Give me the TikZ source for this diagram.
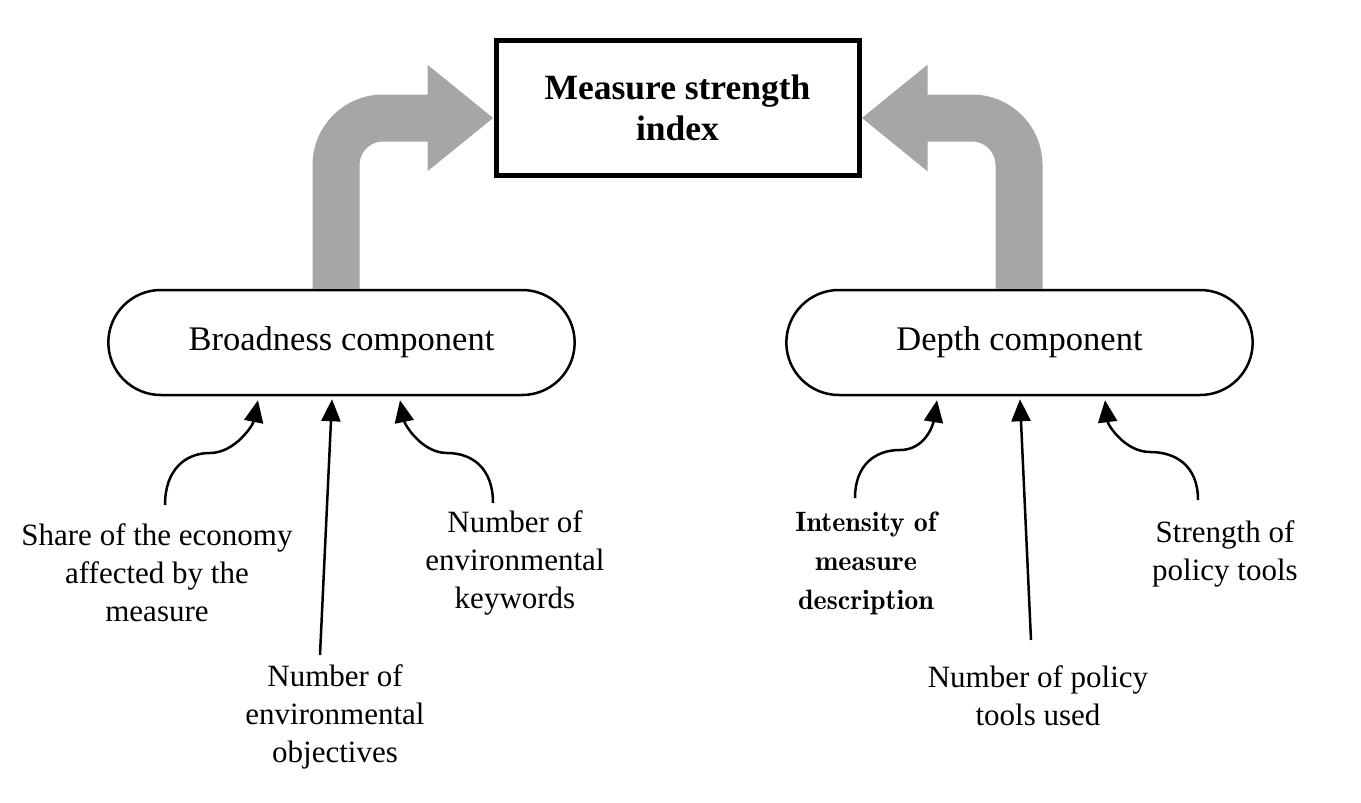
\documentclass[tikz,border=0pt]{standalone}
\usepackage{fontspec}
\setmainfont{Liberation Serif}
\newfontfamily\didonefont{Latin Modern Roman Demi}
\usetikzlibrary{arrows.meta,shapes.misc}
\definecolor{shaftgray}{RGB}{166,166,166}

\begin{document}
\begin{tikzpicture}[x=1pt,y=-1pt,
    indexbox/.style={draw,line width=5pt,minimum width=363pt,minimum height=135pt,
      align=center,font=\fontsize{35.5}{41}\selectfont\bfseries},
    compbox/.style={draw,line width=2.5pt,rounded rectangle,minimum width=473pt,
      minimum height=105pt,font=\fontsize{34.5}{40}\selectfont},
    factor/.style={align=center,inner sep=0pt,font=\fontsize{31}{38}\selectfont},
    feed/.style={line width=2.5pt,-{Triangle[length=22pt,width=19pt]}},
    bigarrow/.style={draw=shaftgray,line width=47pt,rounded corners=47pt,
      -{Triangle[length=66pt,width=102pt]}}]
    \useasboundingbox (0,0) rectangle (1361,803);
    % top and the two components
    \node [indexbox] (msi) at (677.5,107.5) {Measure strength\\index};
    \node [compbox] (broad) at (341.5,342.5) {Broadness component};
    \node [compbox] (depth) at (1019.5,342.5) {Depth component};
    % grey arrows into the index
    \draw [bigarrow] ([xshift=-5.5pt]broad.north) |- ([yshift=-10.5pt]msi.west);
    \draw [bigarrow] ([xshift=-0.5pt]depth.north) |- ([yshift=-10.5pt]msi.east);
    % factors
    \node [factor] (share) at (157,573) {Share of the economy\\affected by the\\measure};
    \node [factor] (objectives) at (335,717) {Number of\\environmental\\objectives};
    \node [factor] (keywords) at (515,563) {Number of\\environmental\\keywords};
    \node [factor,font=\didonefont\fontsize{28}{39}\selectfont] (intensity) at (866,563) {Intensity of\\measure\\description};
    \node [factor] (ntools) at (1038,696) {Number of policy\\tools used};
    \node [factor] (strength) at (1225,554) {Strength of\\policy tools};
    \coordinate (s1) at (165,505);
    \coordinate (s2) at (320,655);
    \coordinate (s3) at (493,503);
    \coordinate (s4) at (855,498);
    \coordinate (s5) at (1031,640);
    \coordinate (s6) at (1198,500);
    % feeding arrows
    \draw [feed] (s1) .. controls (165,470) and (185,453) .. (210,453)
      .. controls (235,453) and (253,425) .. ([xshift=-83.5pt,yshift=-4pt]broad.south);
    \draw [feed] (s2) -- ([xshift=-9.5pt,yshift=-3pt]broad.south);
    \draw [feed] (s3) .. controls (493,468) and (472,453) .. (447,453)
      .. controls (422,453) and (405,425) .. ([xshift=58.5pt,yshift=-4pt]broad.south);
    \draw [feed] (s4) .. controls (855,465) and (875,450) .. (900,450)
      .. controls (925,450) and (933,425) .. ([xshift=-82.5pt,yshift=-4pt]depth.south);
    \draw [feed] (s5) -- ([xshift=0.5pt,yshift=-3pt]depth.south);
    \draw [feed] (s6) .. controls (1198,465) and (1175,452) .. (1150,452)
      .. controls (1125,452) and (1108,425) .. ([xshift=85.5pt,yshift=-4pt]depth.south);
\end{tikzpicture}
\end{document}
